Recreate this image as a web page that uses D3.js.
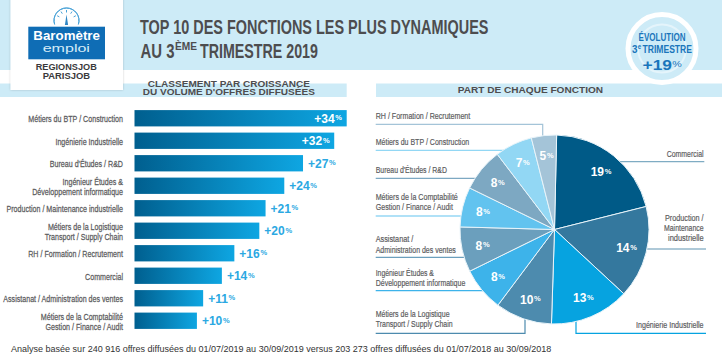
<!DOCTYPE html>
<html lang="fr">
<head>
    <meta charset="UTF-8">
    <title>Top 10 des fonctions les plus dynamiques</title>
    <script src="https://d3js.org/d3.v7.min.js"></script>
    <style>
        html, body { margin: 0; padding: 0; background: #fff; }
        svg { display: block; }
        text { font-family: "Liberation Sans", Arial, sans-serif; fill: #4d4d4f; }
        .cat text { font-size: 9.5px; font-weight: normal; stroke: #5c5c5e; stroke-width: 0.25px; }
        .callout { font-size: 9.5px; font-weight: normal; stroke: #5c5c5e; stroke-width: 0.2px; }
        .value { font-size: 12px; font-weight: bold; }
        .unit { font-size: 7.5px; font-weight: bold; }
    </style>
</head>
<body>
    <svg width="722" height="361"></svg>
    <script>
        // Bar chart: growth of job ads per function
        const barCategories = [
            "Métiers du BTP / Construction", "Ingénierie Industrielle", "Bureau d'Études / R&D",
            "Ingénieur Études &|Développement informatique", "Production / Maintenance industrielle",
            "Métiers de la Logistique|Transport / Supply Chain", "RH / Formation / Recrutement",
            "Commercial", "Assistanat / Administration des ventes",
            "Métiers de la Comptabilité|Gestion / Finance / Audit"
        ];
        const barValues = [34, 32, 27, 24, 21, 20, 16, 14, 11, 10];

        // Pie chart: printed shares, and the slice sizes as they are drawn in the picture
        const pieCategories = [
            "Commercial", "Production", "Ingénierie", "Logistique", "Ingénieur",
            "Assistanat", "Comptabilité", "Bureau", "BTP", "RH"
        ];
        const pieLabels = [19, 14, 13, 10, 8, 8, 8, 8, 7, 5];
        const pieDrawn = [20.7, 15.8, 13.6, 9.7, 7.5, 7.7, 6.8, 7.4, 6.4, 4.3];
        const pieColors = ["#005a87", "#34789e", "#06a3e0", "#4d8bae", "#3db3ea",
                           "#6b9fbd", "#62c3ef", "#7da8c2", "#92d7f4", "#a4c4d8"];

        const svg = d3.select("svg");
        const defs = svg.append("defs");

        const band = "#cdebf7";
        const grad = defs.append("linearGradient").attr("id", "barGrad");
        grad.append("stop").attr("offset", "0%").attr("stop-color", "#005f8f");
        grad.append("stop").attr("offset", "100%").attr("stop-color", "#0ea6e2");

        const shadow = defs.append("filter").attr("id", "soft")
            .attr("x", "-10%").attr("y", "-10%").attr("width", "120%").attr("height", "120%");
        shadow.append("feDropShadow").attr("dx", 0).attr("dy", 0).attr("stdDeviation", 1.2)
            .attr("flood-color", "#000").attr("flood-opacity", 0.2);

        // stretch or squeeze a text to a measured width
        function fit(sel, w) {
            const natural = sel.node().getComputedTextLength();
            const tx = +sel.attr("x"), ty = +sel.attr("y");
            return sel.attr("x", 0).attr("y", 0)
                .attr("transform", `translate(${tx},${ty}) scale(${w / natural},1)`);
        }
        function put(x, y, str, size, weight, color, w, anchor) {
            const t = svg.append("text").attr("x", x).attr("y", y).text(str)
                .style("font-size", size + "px").style("font-weight", weight).style("fill", color);
            if (anchor) t.attr("text-anchor", anchor);
            if (w) fit(t, w);
            return t;
        }
        // number followed by a small % sign, kept as two texts side by side
        function valueLabel(parent, lx, base, str, color, centered) {
            const t = parent.append("text").attr("class", "value").attr("x", lx).attr("y", base)
                .text(str).style("fill", color);
            const u = parent.append("text").attr("class", "unit").attr("y", base - 2.5)
                .text("%").style("fill", color);
            const w = t.node().getComputedTextLength();
            const uw = u.node().getComputedTextLength();
            const start = centered ? lx - (w + uw) / 2 : lx;
            t.attr("x", start);
            u.attr("x", start + w + 0.7);
        }

        // Background bands
        svg.append("rect").attr("width", 722).attr("height", 70).attr("fill", band);
        svg.append("rect").attr("y", 83.5).attr("width", 346.7).attr("height", 13.5).attr("fill", band);
        svg.append("rect").attr("x", 376).attr("y", 83.5).attr("width", 346).attr("height", 13.5).attr("fill", band);

        // Logo
        svg.append("rect").attr("x", 10.5).attr("y", -4).attr("width", 112.5).attr("height", 94)
            .attr("fill", "#fff").attr("filter", "url(#soft)");
        svg.append("rect").attr("x", 28.3).attr("y", 26.7).attr("width", 76.7).attr("height", 32.6).attr("fill", "#0f6db5");
        const gauge = svg.append("g").attr("transform", "translate(66.5,20.5)")
            .attr("fill", "none").attr("stroke", "#4aa3d8").attr("stroke-width", 1);
        gauge.append("path").attr("d", d3.arc().innerRadius(12.5).outerRadius(12.5)
            .startAngle(-Math.PI * 0.6).endAngle(Math.PI * 0.6)());
        d3.range(-2, 3).forEach(i => {
            const a = i * 0.55;
            gauge.append("line").attr("x1", 8 * Math.sin(a)).attr("y1", -8 * Math.cos(a))
                .attr("x2", 10.5 * Math.sin(a)).attr("y2", -10.5 * Math.cos(a));
        });
        gauge.append("path").attr("d", "M-1.6,4.5L0,-6L1.6,4.5Z").attr("fill", "#2f86c4").attr("stroke", "none");
        put(33.3, 40, "Baromètre", 13, "bold", "#fff", 66.7);
        put(42.7, 52.2, "emploi", 10, "normal", "#d5ecf8", 47.3);
        put(35.7, 70, "REGIONSJOB", 8.2, "bold", "#3a3a3c", 61);
        put(42.7, 79.4, "PARISJOB", 8.2, "bold", "#3a3a3c", 47.3);

        // Title
        const titleColor = "#4d4d4f";
        put(140, 34, "TOP 10 DES FONCTIONS LES PLUS DYNAMIQUES", 20.5, "bold", titleColor, 348.7);
        put(140.5, 57.8, "AU 3", 20.5, "bold", titleColor, 34);
        put(175, 50.2, "ÈME", 10, "bold", titleColor, 22);
        put(200, 57.8, "TRIMESTRE 2019", 20.5, "bold", titleColor, 118);

        // Badge
        svg.append("circle").attr("cx", 662).attr("cy", 48.5).attr("r", 34)
            .attr("fill", band).attr("stroke", "#fff").attr("stroke-width", 5);
        svg.append("circle").attr("cx", 662).attr("cy", 48.5).attr("r", 24)
            .attr("fill", "none").attr("stroke", "#e4f4fb").attr("stroke-width", 2);
        const badgeBlue = "#1a75bb";
        put(662, 41, "ÉVOLUTION", 10.5, "bold", badgeBlue, 47, "middle");
        put(632, 53, "3", 10.5, "bold", badgeBlue, 5.5);
        put(637.8, 49, "e", 6.5, "bold", badgeBlue, 3.5);
        put(642.5, 53, "TRIMESTRE", 10.5, "bold", badgeBlue, 49.5);
        put(642.5, 70, "+19", 15.5, "bold", badgeBlue, 29.5);
        put(672.2, 66.5, "%", 9, "normal", badgeBlue, 9.5);

        // Section headers
        const headColor = "#4d4d4f";
        put(147.7, 86.5, "CLASSEMENT PAR CROISSANCE", 8.6, "bold", headColor, 162.3);
        put(142.7, 94.6, "DU VOLUME D'OFFRES DIFFUSÉES", 8.6, "bold", headColor, 172.3);
        put(457.7, 93, "PART DE CHAQUE FONCTION", 8.6, "bold", headColor, 145.6);

        // Bars
        const x = d3.scaleLinear().domain([0, 34]).range([134.5, 346.7]);
        const y = d3.scaleBand().domain(barCategories).range([107, 332]).paddingInner(0.275).paddingOuter(0.1375);

        svg.selectAll(".bar")
            .data(barValues)
            .enter().append("rect")
            .attr("class", "bar")
            .attr("x", x(0))
            .attr("y", (d, i) => y(barCategories[i]))
            .attr("width", d => x(d) - x(0))
            .attr("height", y.bandwidth())
            .attr("fill", "url(#barGrad)");

        const catAxis = svg.append("g").attr("class", "cat")
            .attr("transform", "translate(123,0)")
            .call(d3.axisLeft(y).tickSize(0).tickPadding(0));
        catAxis.select(".domain").remove();
        catAxis.selectAll("text").each(function (d) {
            const parts = d.split("|");
            const t = d3.select(this).text(null).attr("x", 0).attr("dy", null)
                .attr("transform", "scale(0.75,1)").style("fill", "#5c5c5e");
            parts.forEach((p, i) => {
                t.append("tspan").attr("x", 0)
                    .attr("y", parts.length > 1 ? (i === 0 ? -1 : 8.8) : 4.2)
                    .text(p);
            });
        });

        // Value labels, the two longest bars carry theirs inside
        barValues.forEach((v, i) => {
            const inside = i < 2;
            const base = y(barCategories[i]) + y.bandwidth() / 2 + 4.5;
            valueLabel(svg, inside ? x(v) - 32.4 : x(v) + 5, base, "+" + v, inside ? "#fff" : "#2ba8e2", false);
        });

        // Callout lines, drawn under the pie so they end on its edge
        const cx = 554.5, cy = 229.5, radius = 94.5;
        const leaders = [
            { color: "#a4c4d8", pts: [[375.7, 124.3], [542.7, 124.3], [542.7, 140]] },
            { color: "#92d7f4", pts: [[375.7, 150.3], [510, 150.3]] },
            { color: "#7da8c2", pts: [[375.7, 178.3], [480, 178.3]] },
            { color: "#62c3ef", pts: [[375.7, 216], [470, 216]] },
            { color: "#6b9fbd", pts: [[375.7, 257.3], [470, 257.3]] },
            { color: "#3db3ea", pts: [[375.7, 290.7], [490, 290.7]] },
            { color: "#4d8bae", pts: [[375.7, 333.3], [525, 333.3], [525, 315]] },
            { color: "#005a87", pts: [[615, 161.7], [704.3, 161.7]], opacity: 0.5 },
            { color: "#34789e", pts: [[640, 249], [706, 249]], opacity: 0.8 },
            { color: "#06a3e0", pts: [[576, 318], [576, 333.3], [706, 333.3]] }
        ];
        svg.selectAll(".leader")
            .data(leaders)
            .enter().append("path")
            .attr("class", "leader")
            .attr("d", d => d3.line()(d.pts))
            .attr("fill", "none")
            .attr("stroke", d => d.color)
            .attr("stroke-opacity", d => d.opacity || 1)
            .attr("stroke-width", 1.2);

        // Pie
        const pie = d3.pie().sort(null).startAngle(1.3 * Math.PI / 180).endAngle((360 + 1.3) * Math.PI / 180);
        const arc = d3.arc().innerRadius(0).outerRadius(radius);
        const labelArc = d3.arc().innerRadius(74).outerRadius(74);
        const pieG = svg.append("g").attr("transform", `translate(${cx},${cy})`);
        const slices = pie(pieDrawn);

        pieG.selectAll("path")
            .data(slices)
            .enter().append("path")
            .attr("d", arc)
            .attr("fill", (d, i) => pieColors[i])
            .attr("stroke", "#e8f4fa")
            .attr("stroke-width", 1);

        slices.forEach((s, i) => {
            const [px, py] = labelArc.centroid(s);
            valueLabel(pieG, px, py + 4.5, pieLabels[i], "#fff", true);
        });

        // Callout texts
        const calloutText = [
            ["RH / Formation / Recrutement", 375.7, 119, 94.7],
            ["Métiers du BTP / Construction", 375.7, 145, 93.7],
            ["Bureau d'Études / R&D", 375.7, 172.7, 71.3],
            ["Métiers de la Comptabilité", 375.7, 200, 82.3],
            ["Gestion / Finance / Audit", 375.7, 210, 77.3],
            ["Assistanat /", 375.7, 242.3, 37.7],
            ["Administration des ventes", 375.7, 252.7, 80.3],
            ["Ingénieur Études &", 375.7, 275.7, 58.3],
            ["Développement informatique", 375.7, 285.7, 89.7],
            ["Métiers de la Logistique", 375.7, 317.3, 74],
            ["Transport / Supply Chain", 375.7, 327.3, 77],
            ["Commercial", 666.7, 157.3, 37],
            ["Production /", 665, 220.7, 38.7],
            ["Maintenance", 664, 231, 39.7],
            ["industrielle", 668, 241, 35.7],
            ["Ingénierie Industrielle", 636, 327.7, 67.7]
        ];
        calloutText.forEach(c => {
            const t = svg.append("text").attr("class", "callout").attr("x", c[1]).attr("y", c[2])
                .text(c[0]).style("fill", "#5c5c5e");
            fit(t, c[3]);
        });

        // Footer
        put(11, 351.7, "Analyse basée sur 240 916 offres diffusées du 01/07/2019 au 30/09/2019 versus 203 273 offres diffusées du 01/07/2018 au 30/09/2018",
            9, "normal", "#333", 541);
    </script>
</body>
</html>
